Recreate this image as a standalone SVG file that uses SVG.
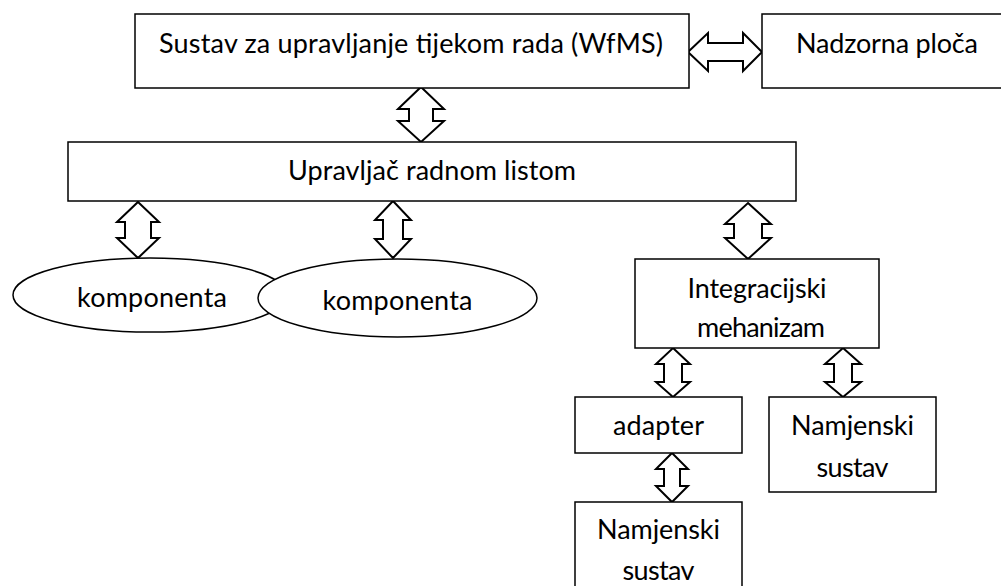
<svg xmlns="http://www.w3.org/2000/svg" width="1001" height="586" viewBox="0 0 1001 586">
<style>
.box{fill:#fff;stroke:#000;stroke-width:1.5}
.arr{fill:#fff;stroke:#000;stroke-width:2;stroke-linejoin:miter}
.t{font-family:Lato,"Open Sans","Liberation Sans",sans-serif;font-size:27px;fill:#000;text-anchor:middle}
</style>
<rect width="1001" height="586" fill="#fff"/>
<g id="connectors">
<polygon class="arr" points="421,87 444,109 433,109 433,121 444,121 421,142 398,121 409,121 409,109 398,109"/>
<polygon class="arr" points="688,52 708,33 708,43 743,43 743,33 762,52 743,71 743,61 708,61 708,71"/>
<polygon class="arr" points="138,202 159,222 151,222 151,238 159,238 138,258 117,238 125,238 125,222 117,222"/>
<polygon class="arr" points="393,201 411,220 403,220 403,239 411,239 393,258 375,239 383,239 383,220 375,220"/>
<polygon class="arr" points="748,203 771,224 762,224 762,238 771,238 748,259 725,238 734,238 734,224 725,224"/>
<polygon class="arr" points="673,348 690,364 682,364 682,382 690,382 673,397 656,382 664,382 664,364 656,364"/>
<polygon class="arr" points="843,348 861,364 852,364 852,382 861,382 843,397 825,382 834,382 834,364 825,364"/>
<polygon class="arr" points="672,453 688,469 680,469 680,486 688,486 672,502 656,486 664,486 664,469 656,469"/>
</g>
<g id="wfms">
<rect class="box" x="135" y="14" width="554" height="74"/>
<text class="t" x="411" y="53" textLength="504">Sustav za upravljanje tijekom rada (WfMS)</text>
</g>
<g id="nadzorna">
<rect class="box" x="762" y="14" width="250" height="74"/>
<text class="t" x="887" y="53" textLength="182">Nadzorna ploča</text>
</g>
<g id="upravljac">
<rect class="box" x="68" y="142" width="728" height="59"/>
<text class="t" x="432" y="180" textLength="288">Upravljač radnom listom</text>
</g>
<g id="komponenta1">
<ellipse class="box" cx="150" cy="295" rx="137" ry="37"/>
<text class="t" x="152" y="307" textLength="150">komponenta</text>
</g>
<g id="komponenta2">
<ellipse class="box" cx="397.5" cy="298" rx="139.5" ry="39"/>
<text class="t" x="397.5" y="310" textLength="150">komponenta</text>
</g>
<g id="integracijski">
<rect class="box" x="635" y="259" width="244" height="89"/>
<text class="t" x="757" y="298" textLength="139">Integracijski</text>
<text class="t" x="761" y="337" textLength="128">mehanizam</text>
</g>
<g id="adapter">
<rect class="box" x="575" y="397" width="167" height="56"/>
<text class="t" x="658.5" y="435" textLength="91">adapter</text>
</g>
<g id="namjenski1">
<rect class="box" x="769" y="397" width="167" height="95"/>
<text class="t" x="852.5" y="435" textLength="123">Namjenski</text>
<text class="t" x="852.5" y="477" textLength="72">sustav</text>
</g>
<g id="namjenski2">
<rect class="box" x="575" y="502" width="167" height="100"/>
<text class="t" x="658.5" y="539" textLength="123">Namjenski</text>
<text class="t" x="658.5" y="580" textLength="72">sustav</text>
</g>
</svg>
